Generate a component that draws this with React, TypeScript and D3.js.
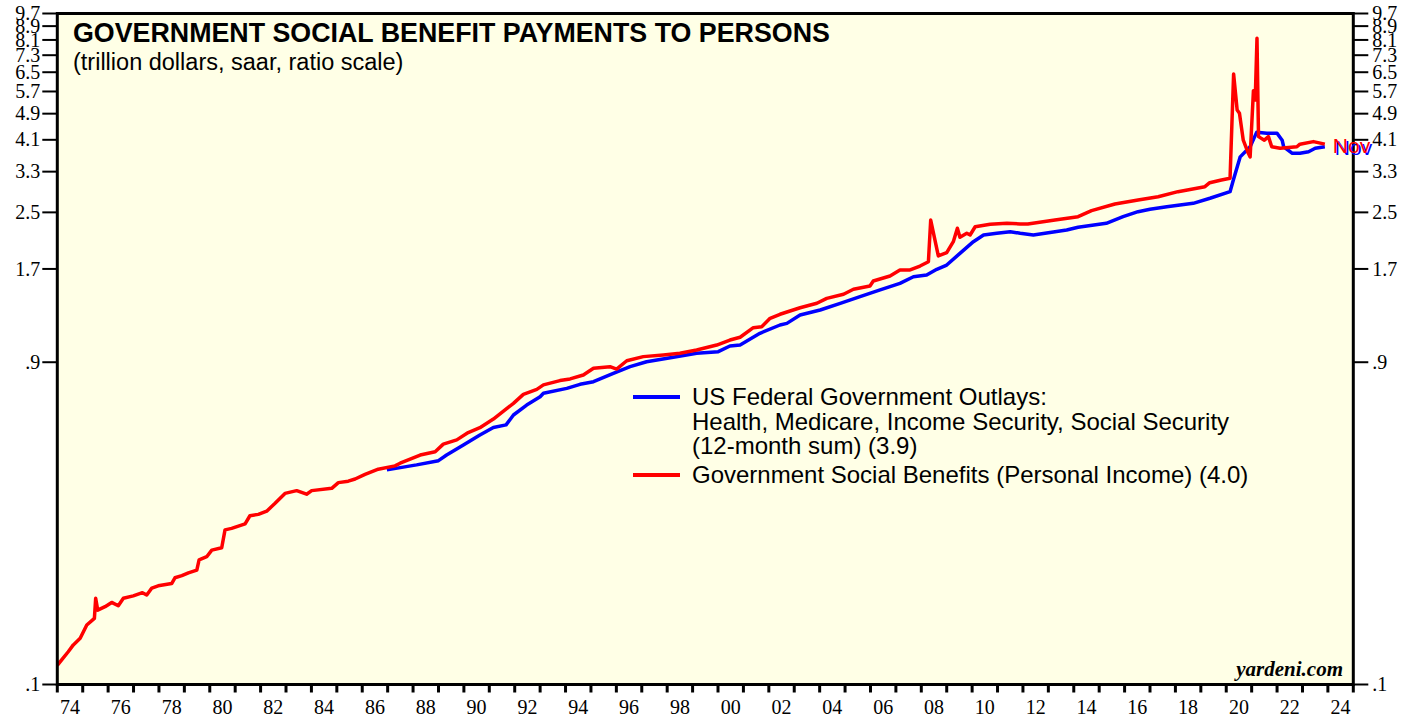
import React from "react";
import * as d3 from "d3";

// Government Social Benefits (Personal Income), trillion $ saar: [year, value]
const redSeries: [number, number][] = [
  [1974.0, 0.114], [1974.43, 0.125], [1974.63, 0.131], [1974.9, 0.137], [1975.16, 0.15],
  [1975.46, 0.157], [1975.51, 0.18], [1975.59, 0.166], [1975.88, 0.17], [1976.14, 0.175],
  [1976.4, 0.171], [1976.6, 0.18], [1976.99, 0.183], [1977.35, 0.187], [1977.52, 0.184],
  [1977.72, 0.193], [1977.97, 0.196], [1978.5, 0.199], [1978.63, 0.207], [1978.9, 0.21],
  [1979.16, 0.214], [1979.49, 0.218], [1979.58, 0.234], [1979.88, 0.239], [1980.08, 0.25],
  [1980.47, 0.254], [1980.6, 0.287], [1980.86, 0.29], [1981.39, 0.299], [1981.58, 0.316],
  [1981.91, 0.319], [1982.24, 0.326], [1982.57, 0.344], [1982.96, 0.368], [1983.42, 0.375],
  [1983.81, 0.366], [1984.01, 0.375], [1984.8, 0.381], [1985.06, 0.396], [1985.45, 0.4],
  [1985.72, 0.406], [1986.11, 0.419], [1986.63, 0.434], [1987.29, 0.444], [1987.49, 0.452],
  [1988.28, 0.478], [1988.87, 0.489], [1989.19, 0.515], [1989.72, 0.53], [1990.17, 0.557],
  [1990.63, 0.576], [1991.16, 0.611], [1991.62, 0.65], [1991.95, 0.68], [1992.34, 0.723],
  [1992.87, 0.748], [1993.13, 0.771], [1993.78, 0.794], [1994.18, 0.803], [1994.7, 0.825],
  [1995.1, 0.864], [1995.75, 0.873], [1996.01, 0.859], [1996.41, 0.909], [1997.06, 0.935],
  [1997.85, 0.946], [1998.5, 0.957], [1999.16, 0.978], [1999.95, 1.012], [2000.47, 1.047],
  [2000.87, 1.067], [2001.39, 1.139], [2001.72, 1.147], [2002.05, 1.214], [2002.44, 1.248],
  [2003.23, 1.305], [2003.89, 1.345], [2004.28, 1.391], [2004.94, 1.43], [2005.33, 1.48],
  [2005.98, 1.513], [2006.11, 1.566], [2006.77, 1.62], [2007.16, 1.688], [2007.56, 1.688],
  [2007.95, 1.734], [2008.28, 1.786], [2008.37, 2.373], [2008.67, 1.857], [2009.0, 1.899],
  [2009.26, 2.047], [2009.42, 2.243], [2009.52, 2.109], [2009.79, 2.168], [2009.92, 2.143],
  [2010.12, 2.267], [2010.71, 2.305], [2011.37, 2.321], [2011.89, 2.31], [2012.19, 2.31],
  [2013.26, 2.373], [2014.17, 2.427], [2014.7, 2.529], [2015.62, 2.647], [2016.53, 2.72],
  [2017.32, 2.782], [2018.1, 2.879], [2019.16, 2.978], [2019.35, 3.061], [2019.81, 3.118],
  [2020.15, 3.154], [2020.29, 6.42], [2020.43, 5.02], [2020.52, 4.91], [2020.67, 4.09],
  [2020.87, 3.74], [2020.94, 3.65], [2021.07, 5.73], [2021.14, 5.38], [2021.21, 8.19],
  [2021.27, 4.19], [2021.5, 4.09], [2021.66, 4.19], [2021.79, 3.91], [2022.12, 3.87],
  [2022.78, 3.91], [2022.9, 3.98], [2023.43, 4.05], [2023.88, 3.98],
];

// US Federal Government Outlays: Health, Medicare, Income Security, Social Security (12-month sum)
const blueSeries: [number, number][] = [
  [1986.97, 0.432], [1988.14, 0.447], [1989.0, 0.46], [1989.32, 0.478], [1989.98, 0.512],
  [1990.63, 0.548], [1991.16, 0.577], [1991.66, 0.587], [1991.95, 0.628], [1992.47, 0.672],
  [1993.0, 0.711], [1993.13, 0.728], [1994.05, 0.753], [1994.57, 0.774], [1995.1, 0.788],
  [1995.88, 0.834], [1996.54, 0.873], [1997.19, 0.903], [1998.24, 0.931], [1999.16, 0.957],
  [2000.01, 0.967], [2000.47, 1.005], [2000.87, 1.012], [2001.65, 1.096], [2002.44, 1.16],
  [2002.71, 1.173], [2003.23, 1.242], [2004.02, 1.285], [2004.81, 1.345], [2005.59, 1.407],
  [2006.38, 1.473], [2007.16, 1.541], [2007.69, 1.612], [2008.21, 1.631], [2008.61, 1.696],
  [2009.0, 1.746], [2009.52, 1.891], [2010.05, 2.047], [2010.45, 2.143], [2010.97, 2.168],
  [2011.5, 2.192], [2011.89, 2.168], [2012.41, 2.143], [2013.72, 2.217], [2014.17, 2.258],
  [2015.28, 2.321], [2015.94, 2.427], [2016.53, 2.512], [2017.0, 2.553], [2017.66, 2.599],
  [2018.7, 2.659], [2019.36, 2.752], [2020.15, 2.879], [2020.28, 3.118], [2020.55, 3.65],
  [2020.94, 3.91], [2021.2, 4.32], [2021.6, 4.29], [2022.0, 4.29], [2022.2, 4.09],
  [2022.26, 3.91], [2022.6, 3.74], [2022.9, 3.74], [2023.24, 3.78], [2023.5, 3.87],
  [2023.88, 3.91],
];

const yTickValues = [0.1, 0.9, 1.7, 2.5, 3.3, 4.1, 4.9, 5.7, 6.5, 7.3, 8.1, 8.9, 9.7];
const xLabelYears = d3.range(1974, 2025, 2);
const xTickYears = d3.range(1974, 2026, 1);

const title = "GOVERNMENT SOCIAL BENEFIT PAYMENTS TO PERSONS";
const subtitle = "(trillion dollars, saar, ratio scale)";
const blueLegend = [
  "US Federal Government Outlays:",
  "Health, Medicare, Income Security, Social Security",
  "(12-month sum) (3.9)",
];
const redLegend = "Government Social Benefits (Personal Income) (4.0)";

const fmtY = (v: number) => (v < 1 ? "." + String(Math.round(v * 10)) : v.toFixed(1));
const fmtX = (yr: number) => String(yr % 100).padStart(2, "0");

export default function App() {
  const W = 1413, H = 719;
  const L = 57.3, R = 1353.3, T = 13.5, B = 684.5;
  const x = d3.scaleLinear().domain([1974, 2025]).range([L, R]);
  const y = d3.scaleLog().domain([0.1, 9.7]).range([B, T]);
  const line = d3
    .line<[number, number]>()
    .x((d) => x(d[0]))
    .y((d) => y(d[1]));

  const sans = "'Liberation Sans', Arial, Helvetica, sans-serif";
  const serif = "'Liberation Serif', 'Times New Roman', serif";
  const last = redSeries[redSeries.length - 1];

  return (
    <svg
      width={W}
      height={H}
      style={{ position: "absolute", left: 0, top: 0, background: "#fff" }}
    >
      <defs>
        <clipPath id="plotclip">
          <rect x={L} y={T} width={R - L} height={B - T} />
        </clipPath>
      </defs>
      <rect x={L} y={T} width={R - L} height={B - T} fill="#FFFFE6" />

      {/* left and right y ticks */}
      {yTickValues.map((v) => (
        <g key={"yt" + v}>
          <line x1={L - 15} x2={L} y1={y(v)} y2={y(v)} stroke="#000" strokeWidth={2} />
          <line x1={R} x2={R + 15} y1={y(v)} y2={y(v)} stroke="#000" strokeWidth={2} />
          <text x={L - 17} y={y(v)} dy="0.33em" textAnchor="end" fontFamily={serif} fontSize={20} fill="#000">
            {fmtY(v)}
          </text>
          <text x={R + 19} y={y(v)} dy="0.33em" textAnchor="start" fontFamily={serif} fontSize={20} fill="#000">
            {fmtY(v)}
          </text>
        </g>
      ))}

      {/* x ticks */}
      {xTickYears.map((yr) => (
        <line key={"xt" + yr} x1={x(yr)} x2={x(yr)} y1={B} y2={B + 8} stroke="#000" strokeWidth={3} />
      ))}
      {xLabelYears.map((yr) => (
        <text key={"xl" + yr} x={x(yr + 0.5)} y={714} textAnchor="middle" fontFamily={serif} fontSize={20} fill="#000">
          {fmtX(yr)}
        </text>
      ))}

      {/* series */}
      <g clipPath="url(#plotclip)">
        <path d={line(blueSeries) || ""} fill="none" stroke="#0000FF" strokeWidth={3.5} strokeLinejoin="round" />
        <path d={line(redSeries) || ""} fill="none" stroke="#FF0000" strokeWidth={3.5} strokeLinejoin="round" />
      </g>

      <rect x={L} y={T} width={R - L} height={B - T} fill="none" stroke="#000" strokeWidth={3} />

      {/* titles */}
      <text x={73} y={42} fontFamily={sans} fontWeight="bold" fontSize={26.8} fill="#000">
        {title}
      </text>
      <text x={73} y={70} fontFamily={sans} fontSize={23.5} fill="#000">
        {subtitle}
      </text>

      {/* legend */}
      <line x1={633} x2={680} y1={397} y2={397} stroke="#0000FF" strokeWidth={4} />
      {blueLegend.map((t, i) => (
        <text key={"bl" + i} x={692} y={405 + i * 24.5} fontFamily={sans} fontSize={24} fill="#000">
          {t}
        </text>
      ))}
      <line x1={633} x2={680} y1={475} y2={475} stroke="#FF0000" strokeWidth={4} />
      <text x={692} y={483} fontFamily={sans} fontSize={24} fill="#000">
        {redLegend}
      </text>

      {/* Nov label */}
      <text x={x(last[0]) + 10} y={y(last[1]) + 11} fontFamily={sans} fontSize={21} fill="#0000FF">
        Nov
      </text>
      <text x={x(last[0]) + 8} y={y(last[1]) + 9} fontFamily={sans} fontSize={21} fill="#FF0000">
        Nov
      </text>

      <text x={1343} y={676} textAnchor="end" fontFamily={serif} fontStyle="italic" fontWeight="bold" fontSize={21} fill="#000">
        yardeni.com
      </text>
    </svg>
  );
}
